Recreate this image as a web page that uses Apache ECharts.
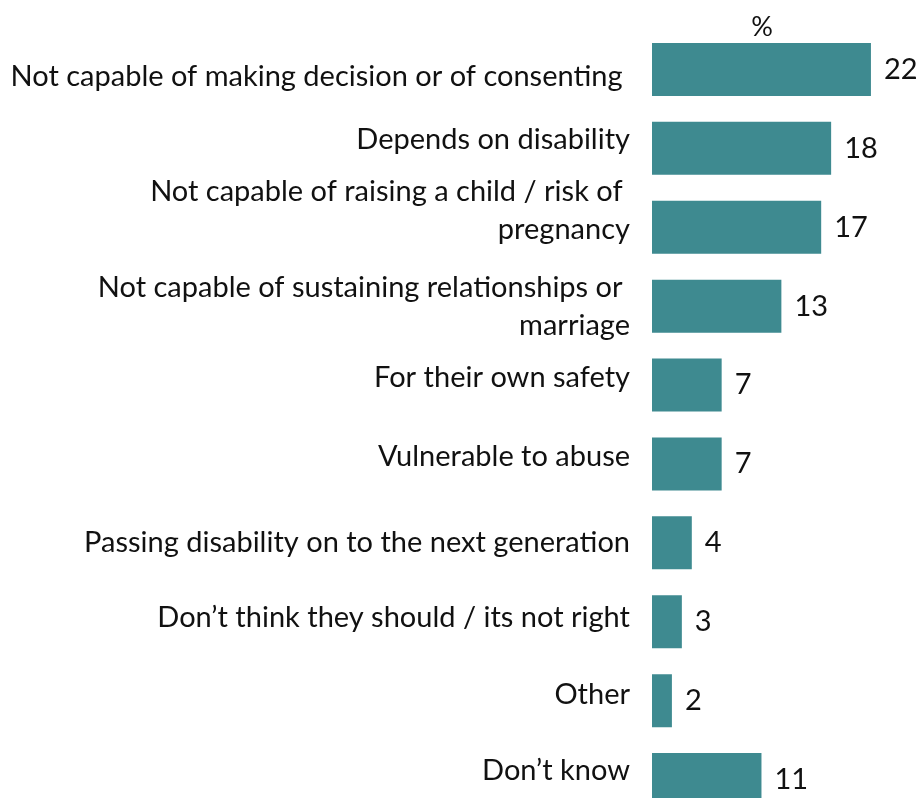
<!DOCTYPE html>
<html>
<head>
<meta charset="utf-8">
<script src="https://cdn.jsdelivr.net/npm/echarts@6/dist/echarts.min.js"></script>
<style>
  html, body { margin: 0; padding: 0; background: #ffffff; }
  #chart { width: 920px; height: 798px; }
</style>
</head>
<body>
<div id="chart"></div>
<script>
// Reasons given, top to bottom
const categories = [
  'Not capable of making decision or of consenting ',
  'Depends on disability',
  'Not capable of raising a child / risk of \npregnancy',
  'Not capable of sustaining relationships or \nmarriage',
  'For their own safety',
  'Vulnerable to abuse',
  'Passing disability on to the next generation',
  'Don\u2019t think they should / its not right',
  'Other',
  'Don\u2019t know'
];
// Share of respondents, %
const values = [22, 18, 17, 13, 7, 7, 4, 3, 2, 11];
const unitLabel = '%';

// Vertical nudge of each category label relative to its bar (px, + = down)
const labelNudge = [7, -9, -17, 0, -7, -7, 0, -4, -6, -9];

const FONT = 'Lato, "Open Sans", sans-serif';
const TEXT = '#111111';
const BAR = '#3e8a90';

// A blank spacer line above or below a label shifts its block by half its height
const spacerRich = {};
labelNudge.forEach(d => {
  const h = Math.abs(d) * 2;
  if (h > 0) spacerRich['g' + h] = { lineHeight: h, height: h, fontSize: 1 };
});
function labelFormatter(name) {
  const i = categories.indexOf(name);
  const d = i >= 0 ? labelNudge[i] : 0;
  if (!d) return name;
  const spacer = '{g' + (Math.abs(d) * 2) + '|\u00a0}';
  return d > 0 ? spacer + '\n' + name : name + '\n' + spacer;
}

const chart = echarts.init(document.getElementById('chart'), null, { renderer: 'canvas' });
chart.setOption({
  animation: false,
  backgroundColor: '#ffffff',
  title: {
    text: unitLabel,
    left: 757,
    top: 9,
    textAlign: 'center',
    textStyle: { fontFamily: FONT, fontSize: 27, fontWeight: 'normal', color: TEXT }
  },
  grid: { left: 652, width: 248.8, top: 30, height: 789, containLabel: false, outerBoundsMode: 'none' },
  xAxis: {
    type: 'value',
    min: 0,
    max: 25,
    show: false
  },
  yAxis: {
    type: 'category',
    inverse: true,
    data: categories,
    axisLine: { show: false },
    axisTick: { show: false },
    splitLine: { show: false },
    axisLabel: {
      margin: 22,
      fontFamily: FONT,
      fontSize: 29,
      lineHeight: 38,
      color: TEXT,
      align: 'right',
      verticalAlign: 'middle',
      formatter: labelFormatter,
      rich: spacerRich
    }
  },
  series: [{
    type: 'bar',
    data: values,
    barWidth: 53,
    itemStyle: { color: BAR },
    label: {
      show: true,
      position: 'right',
      distance: 13,
      fontFamily: FONT,
      fontSize: 29,
      color: TEXT
    }
  }]
});
</script>
</body>
</html>
